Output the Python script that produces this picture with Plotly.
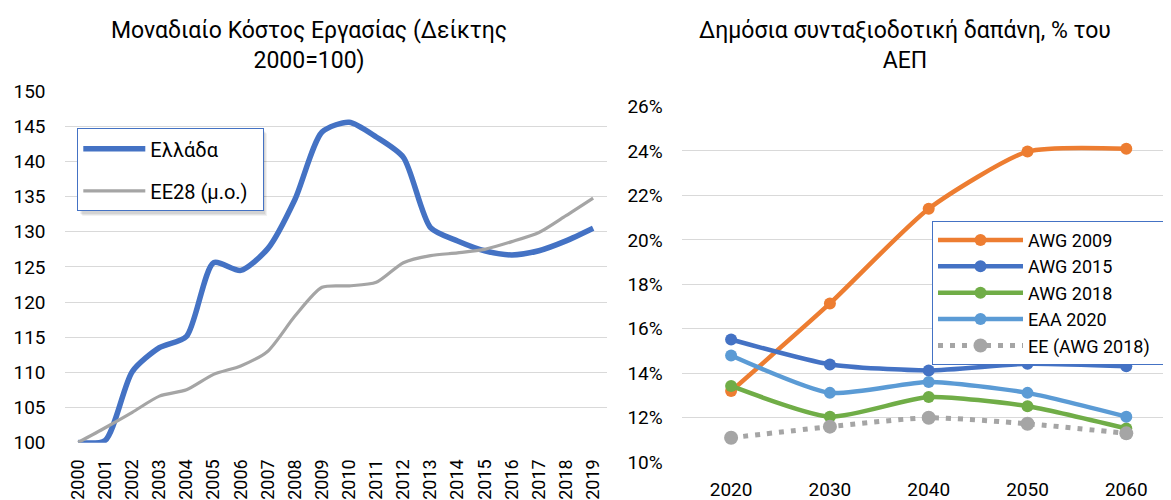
import plotly.graph_objects as go

FONT = "Roboto"

# Left chart: unit labour cost index (2000=100)
years = list(range(2000, 2020))
greece = [100, 100.3, 110.1, 113.5, 115.1, 125.6, 124.5, 127.6, 134.6, 144.2,
          145.6, 143.5, 140.6, 130.6, 128.7, 127.3, 126.7, 127.3, 128.7, 130.5]
eu28 = [100, 102.1, 104.3, 106.6, 107.5, 109.7, 110.9, 113.0, 118.0, 122.1,
        122.3, 122.8, 125.6, 126.6, 127.0, 127.5, 128.6, 129.9, 132.3, 134.8]

# Right chart: public pension expenditure, % of GDP
proj_years = [2020, 2030, 2040, 2050, 2060]
awg_2009 = [0.132, 0.1714, 0.214, 0.2397, 0.241]
awg_2015 = [0.1552, 0.1440, 0.1413, 0.1443, 0.1432]
awg_2018 = [0.1343, 0.1205, 0.1293, 0.1252, 0.1152]
eaa_2020 = [0.148, 0.1312, 0.1361, 0.1312, 0.1205]
eu_awg_2018 = [0.1110, 0.1160, 0.1200, 0.1173, 0.1130]

# the page body has an 8px margin, so the figure is laid out 8px in from the corner
OFF = 8
W, H = 1171 - OFF, 500 - OFF
NBSP = "\u00a0"


def px_x(p):
    return (p - OFF) / W


def px_y(p):
    return 1 - (p - OFF) / H


fig = go.Figure()

# left chart lines
fig.add_trace(go.Scatter(
    x=years, y=greece, name="Ελλάδα", mode="lines",
    line=dict(color="#4472C4", width=5.5, shape="spline", smoothing=0.7),
    legend="legend", legendgroup="g1", xaxis="x", yaxis="y",
))
fig.add_trace(go.Scatter(
    x=years, y=eu28, name="ΕΕ28 (μ.ο.)" + NBSP * 2, mode="lines",
    line=dict(color="#A5A5A5", width=3.2, shape="spline", smoothing=0.7),
    legend="legend", legendgroup="g2", xaxis="x", yaxis="y",
))

# right chart lines
right_series = [
    ("AWG 2009", awg_2009, "#ED7D31"),
    ("AWG 2015", awg_2015, "#4472C4"),
    ("AWG 2018", awg_2018, "#70AD47"),
    ("EAA 2020", eaa_2020, "#5B9BD5"),
]
for name, vals, col in right_series:
    fig.add_trace(go.Scatter(
        x=proj_years, y=vals, name=name, mode="lines+markers",
        line=dict(color=col, width=4.5, shape="spline", smoothing=0.6),
        marker=dict(size=12, color=col),
        legend="legend2", xaxis="x2", yaxis="y2",
    ))
fig.add_trace(go.Scatter(
    x=proj_years, y=eu_awg_2018, name="EE (AWG 2018)" + NBSP * 4, mode="lines+markers",
    line=dict(color="#A5A5A5", width=5, dash="5px,7px", shape="spline", smoothing=0.6),
    marker=dict(size=14, color="#A5A5A5"),
    legend="legend2", xaxis="x2", yaxis="y2",
))

grid = "#D9D9D9"

# soft shadows behind the two legend boxes
shadows = []
for (x0, y0, x1, y1) in [(77.3, 128.3, 262, 211), (932, 220.7, 1175, 357)]:
    for d, a in [(5, 0.05), (4, 0.06), (3, 0.07)]:
        shadows.append(dict(
            type="rect", xref="paper", yref="paper", layer="above",
            x0=px_x(x0 + d), x1=px_x(x1 + d), y0=px_y(y1 + d), y1=px_y(y0 + d),
            fillcolor=f"rgba(0,0,0,{a})", line=dict(width=0),
        ))

fig.update_layout(
    width=W, height=H,
    margin=dict(l=0, r=0, t=0, b=0, autoexpand=False),
    paper_bgcolor="white", plot_bgcolor="white",
    font=dict(family=FONT, color="#000000"),
    xaxis=dict(
        domain=[px_x(64.5), px_x(606.7)], range=[1999.5, 2019.5],
        tickmode="array", tickvals=years, ticktext=[str(y) for y in years],
        tickangle=-90, ticks="", showgrid=False, zeroline=False, showline=False,
        tickfont=dict(family=FONT, size=18, color="#000000"),
        ticklabelstandoff=12, anchor="y", fixedrange=True, automargin=False,
    ),
    yaxis=dict(
        domain=[px_y(442.7), px_y(91.1)], range=[99.97, 150.03],
        tickmode="linear", tick0=100, dtick=5, ticks="",
        showgrid=True, gridcolor=grid, gridwidth=1.3, zeroline=False, showline=False,
        tickfont=dict(family=FONT, size=19, color="#000000"),
        ticklabelstandoff=18, anchor="x", fixedrange=True, automargin=False,
    ),
    xaxis2=dict(
        domain=[px_x(681.7), 1], range=[2015, 2015 + (1171 - 681.7) / 9.88],
        tickmode="array", tickvals=proj_years, ticks="",
        showgrid=False, zeroline=False, showline=False,
        tickfont=dict(family=FONT, size=19, color="#000000"),
        ticklabelstandoff=13, anchor="y2", fixedrange=True, automargin=False,
    ),
    yaxis2=dict(
        domain=[px_y(462.7), px_y(106)], range=[0.0998, 0.2602],
        tickmode="linear", tick0=0.10, dtick=0.02, tickformat=".0%", ticks="",
        showgrid=True, gridcolor=grid, gridwidth=1.3, zeroline=False, showline=False,
        tickfont=dict(family=FONT, size=19, color="#000000"),
        ticklabelstandoff=18, anchor="x2", fixedrange=True, automargin=False,
    ),
    legend=dict(
        x=px_x(77.3), y=px_y(128.3), xanchor="left", yanchor="top",
        bgcolor="white", bordercolor="#4472C4", borderwidth=1,
        font=dict(family=FONT, size=20), traceorder="grouped", tracegroupgap=13,
        itemwidth=62,
    ),
    legend2=dict(
        x=px_x(932), y=px_y(220.7), xanchor="left", yanchor="top",
        bgcolor="white", bordercolor="#4472C4", borderwidth=1,
        font=dict(family=FONT, size=18), traceorder="normal",
        itemwidth=85,
    ),
    shapes=shadows,
    annotations=[
        dict(text="Μοναδιαίο Κόστος Εργασίας (Δείκτης<br>2000=100)",
             x=px_x(309), y=px_y(15), xref="paper", yref="paper",
             xanchor="center", yanchor="top", showarrow=False,
             font=dict(family=FONT, size=23, color="#000000")),
        dict(text="Δημόσια συνταξιοδοτική δαπάνη, % του<br>ΑΕΠ",
             x=px_x(905), y=px_y(15), xref="paper", yref="paper",
             xanchor="center", yanchor="top", showarrow=False,
             font=dict(family=FONT, size=23, color="#000000")),
    ],
    showlegend=True,
)

fig.write_html("out.html")
